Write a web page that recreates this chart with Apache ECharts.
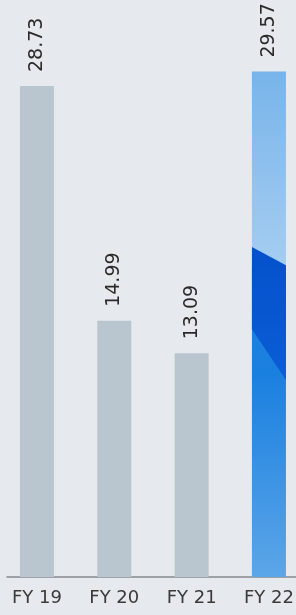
<!DOCTYPE html>
<html>
<head>
<meta charset="utf-8">
<style>
  html, body { margin: 0; padding: 0; background: #e6e9ed; }
  #main { width: 296px; height: 615px; }
</style>
<script src="https://cdn.jsdelivr.net/npm/echarts@6/dist/echarts.min.js"></script>
</head>
<body>
<div id="main"></div>
<script>
var categories = ["FY 19", "FY 20", "FY 21", "FY 22"];
var values = [28.73, 14.99, 13.09, 29.57];

var chartDom = document.getElementById("main");
var myChart = echarts.init(chartDom);
var option;

var grey = "#b9c6cf";
var font = "DejaVu Sans";

// FY 22 bar: blue gradient base
var blueBase = new echarts.graphic.LinearGradient(0, 0, 0, 1, [
  { offset: 0, color: "#78b4ea" },
  { offset: 0.385, color: "#a5cdf1" },
  { offset: 0.39, color: "#1e80e0" },
  { offset: 0.6, color: "#1a80e0" },
  { offset: 1, color: "#5ca6e8" },
]);

var barData = values.map(function (v, i) {
  if (i === values.length - 1) {
    return { value: v, itemStyle: { color: blueBase } };
  }
  return v;
});

// dark blue wedge over the last bar, drawn from the bar's own scale
function renderWedge(params, api) {
  var top = api.coord([api.value(0), api.value(1)]);
  var base = api.coord([api.value(0), 0]);
  var w = api.size([1, 0])[0] * 0.44;
  var h = base[1] - top[1];
  var x0 = top[0] - w / 2;
  var x1 = top[0] + w / 2;
  var y = top[1];
  return {
    type: "polygon",
    shape: {
      points: [
        [x0, y + h * 0.347],
        [x1, y + h * 0.383],
        [x1, y + h * 0.61],
        [x0, y + h * 0.51],
      ],
    },
    style: {
      fill: new echarts.graphic.LinearGradient(0, 0, 0, 1, [
        { offset: 0, color: "#0550cc" },
        { offset: 1, color: "#0a5ed6" },
      ]),
    },
    z2: 10,
  };
}

option = {
  backgroundColor: "#e6e9ed",
  animation: false,
  grid: [
    { left: -1.7, width: 309.3, top: 13, bottom: 38, outerBoundsMode: "none" },
    { left: 7, right: 0, top: 13, bottom: 38, outerBoundsMode: "none" },
  ],
  xAxis: [
    {
      type: "category",
      data: categories,
      gridIndex: 0,
      axisLine: { show: false },
      axisTick: { show: false },
      axisLabel: {
        color: "#3a3a3a",
        fontFamily: font,
        fontSize: 18,
        margin: 12,
      },
    },
    {
      type: "category",
      data: categories,
      gridIndex: 1,
      axisLine: { show: true, lineStyle: { color: "#858b90", width: 1.5 } },
      axisTick: { show: false },
      axisLabel: { show: false },
    },
  ],
  yAxis: [
    { type: "value", gridIndex: 0, min: 0, max: 33, show: false },
    { type: "value", gridIndex: 1, min: 0, max: 33, show: false },
  ],
  series: [
    {
      type: "bar",
      data: barData,
      barWidth: "44%",
      itemStyle: { color: grey },
      label: {
        show: true,
        position: "top",
        rotate: 90,
        align: "left",
        verticalAlign: "middle",
        distance: 14,
        color: "#2a2a2a",
        fontFamily: font,
        fontSize: 19,
        formatter: function (p) {
          return p.value.toFixed(2);
        },
      },
    },
    {
      type: "custom",
      renderItem: renderWedge,
      data: [[values.length - 1, values[values.length - 1]]],
      z: 5,
    },
  ],
};

option && myChart.setOption(option);
</script>
</body>
</html>
